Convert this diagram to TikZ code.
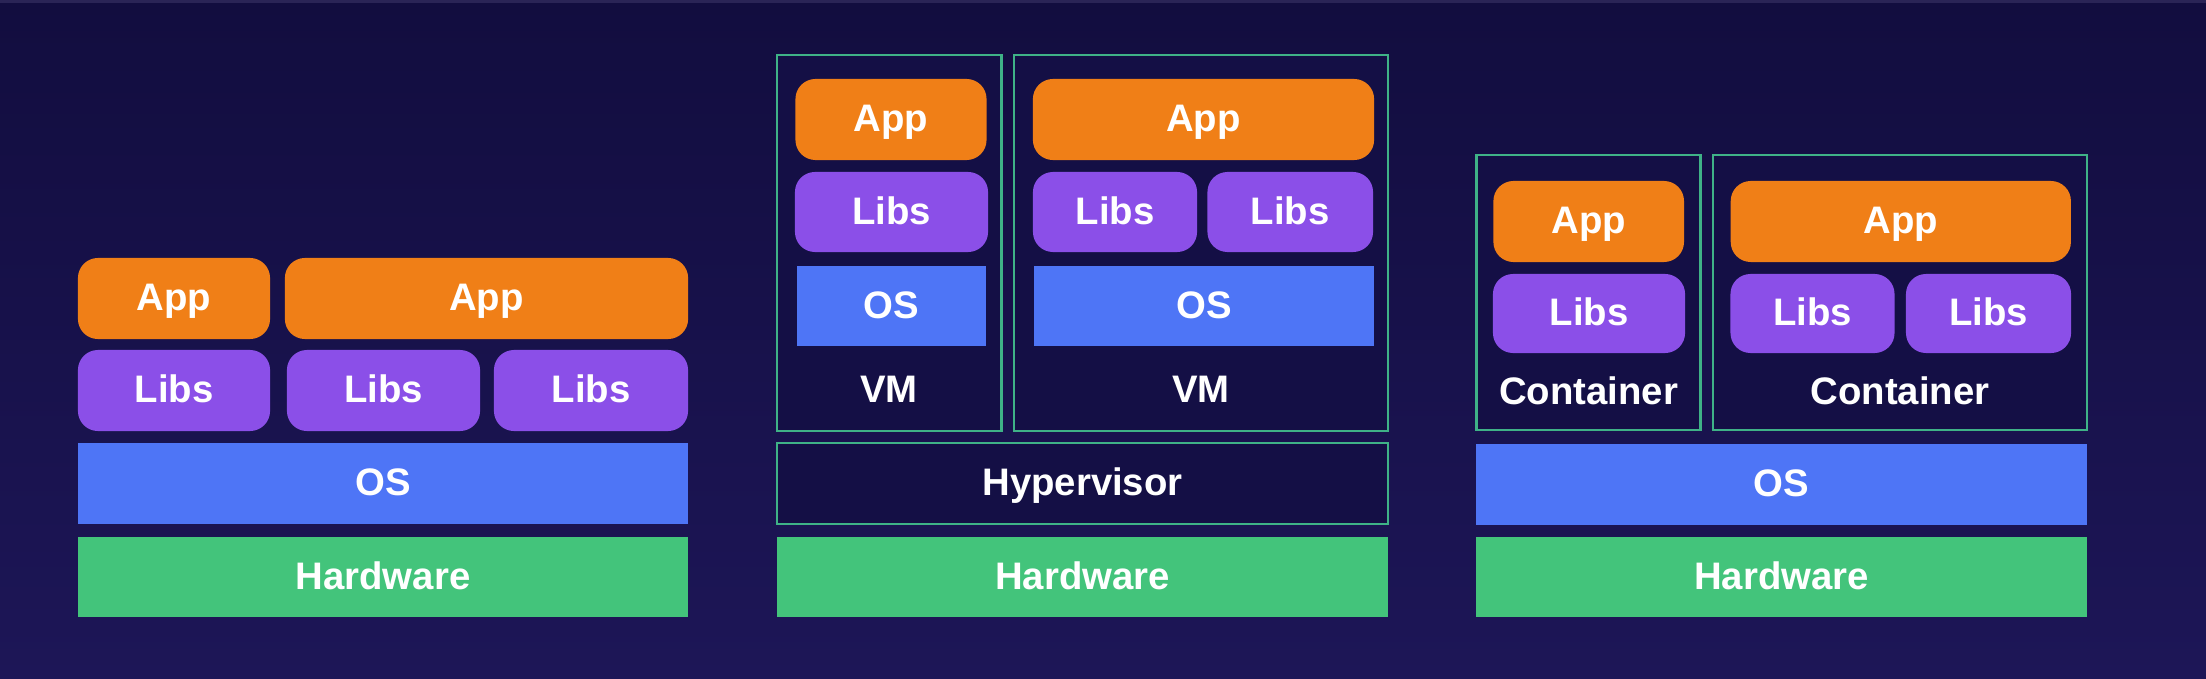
\documentclass[tikz,border=0pt]{standalone}
\usepackage{fontspec}
\setmainfont{Liberation Sans}
\usetikzlibrary{positioning}
\definecolor{bgtop}{HTML}{120D3F}
\definecolor{bgbot}{HTML}{1D1657}
\definecolor{bgstrip}{HTML}{2A2456}
\definecolor{apporange}{HTML}{F07F17}
\definecolor{libpurple}{HTML}{8B4FE8}
\definecolor{osblue}{HTML}{4E75F6}
\definecolor{hwgreen}{HTML}{43C47B}
\definecolor{framegreen}{HTML}{3FB287}
\definecolor{framefill}{HTML}{140F45}
\tikzset{
  lbl/.style={text=white, font=\fontsize{10.9pt}{12pt}\selectfont\bfseries,
    text height=0.70em, text depth=0pt, inner sep=0pt, align=center},
  layer/.style={lbl, draw=none, minimum height=0.81cm},
  appbox/.style={layer, fill=apporange, rounded corners=0.2cm},
  libbox/.style={layer, fill=libpurple, rounded corners=0.2cm},
  osbox/.style={layer, fill=osblue},
  hwbox/.style={layer, fill=hwgreen, minimum height=0.80cm},
  framebox/.style={draw=framegreen, line width=0.025cm, fill=framefill, inner sep=0pt},
}
\begin{document}
\begin{tikzpicture}[x=0.01cm, y=-0.01cm]
\useasboundingbox (0,0) rectangle (2206,679);
\shade[top color=bgtop, bottom color=bgbot] (0,0) rectangle (2206,679);
\fill[bgstrip] (0,0) rectangle (2206,3);

% ---------- Panel 1: bare metal ----------
\node[appbox, minimum width=1.92cm] (p1app1) at (174,298.5) {App};
\node[appbox, minimum width=4.03cm] (p1app2) at (486.5,298.5) {App};
\node[libbox, minimum width=1.92cm] (p1lib1) at (174,390.5) {Libs};
\node[libbox, minimum width=1.93cm] (p1lib2) at (383.5,390.5) {Libs};
\node[libbox, minimum width=1.94cm] (p1lib3) at (591,390.5) {Libs};
\node[osbox, minimum width=6.10cm] (p1os) at (383,483.5) {OS};
\node[hwbox, minimum width=6.10cm] (p1hw) at (383,577) {Hardware};

% ---------- Panel 2: virtual machines ----------
\node[framebox, minimum width=2.245cm, minimum height=3.76cm] (vm1) at (889.25,243) {};
\node[framebox, minimum width=3.74cm, minimum height=3.76cm] (vm2) at (1201,243) {};
\node[framebox, lbl, minimum width=6.11cm, minimum height=0.81cm] (hyp) at (1082.5,483.5) {Hypervisor};
\node[hwbox, minimum width=6.10cm] (p2hw) at (1082.5,577) {Hardware};

\node[appbox, minimum width=1.91cm] (vm1app) at (891,119.5) {App};
\node[libbox, minimum width=1.93cm, minimum height=0.80cm] (vm1lib) at (891.5,212) {Libs};
\node[osbox, minimum width=1.89cm, minimum height=0.80cm] (vm1os) at (891.5,306) {OS};
\node[lbl] (vm1lbl) at (889,390) {VM};

\node[appbox, minimum width=3.41cm] (vm2app) at (1203.5,119.5) {App};
\node[libbox, minimum width=1.64cm, minimum height=0.80cm] (vm2lib1) at (1115,212) {Libs};
\node[libbox, minimum width=1.655cm, minimum height=0.80cm] (vm2lib2) at (1290.25,212) {Libs};
\node[osbox, minimum width=3.40cm, minimum height=0.80cm] (vm2os) at (1204,306) {OS};
\node[lbl] (vm2lbl) at (1201,390) {VM};

% ---------- Panel 3: containers ----------
\node[framebox, minimum width=2.24cm, minimum height=2.75cm] (c1) at (1588.6,292.5) {};
\node[framebox, minimum width=3.74cm, minimum height=2.75cm] (c2) at (1900,292.5) {};
\node[osbox, minimum width=6.10cm] (p3os) at (1781.5,484.5) {OS};
\node[hwbox, minimum width=6.10cm] (p3hw) at (1781.5,577) {Hardware};

\node[appbox, minimum width=1.905cm] (c1app) at (1588.7,221.5) {App};
\node[libbox, minimum width=1.92cm, minimum height=0.79cm] (c1lib) at (1589,313.5) {Libs};
\node[lbl] (c1lbl) at (1588.6,392) {Container};

\node[appbox, minimum width=3.40cm] (c2app) at (1900.8,221.5) {App};
\node[libbox, minimum width=1.64cm, minimum height=0.79cm] (c2lib1) at (1812.5,313.5) {Libs};
\node[libbox, minimum width=1.65cm, minimum height=0.79cm] (c2lib2) at (1988.5,313.5) {Libs};
\node[lbl] (c2lbl) at (1900,392) {Container};
\end{tikzpicture}
\end{document}
